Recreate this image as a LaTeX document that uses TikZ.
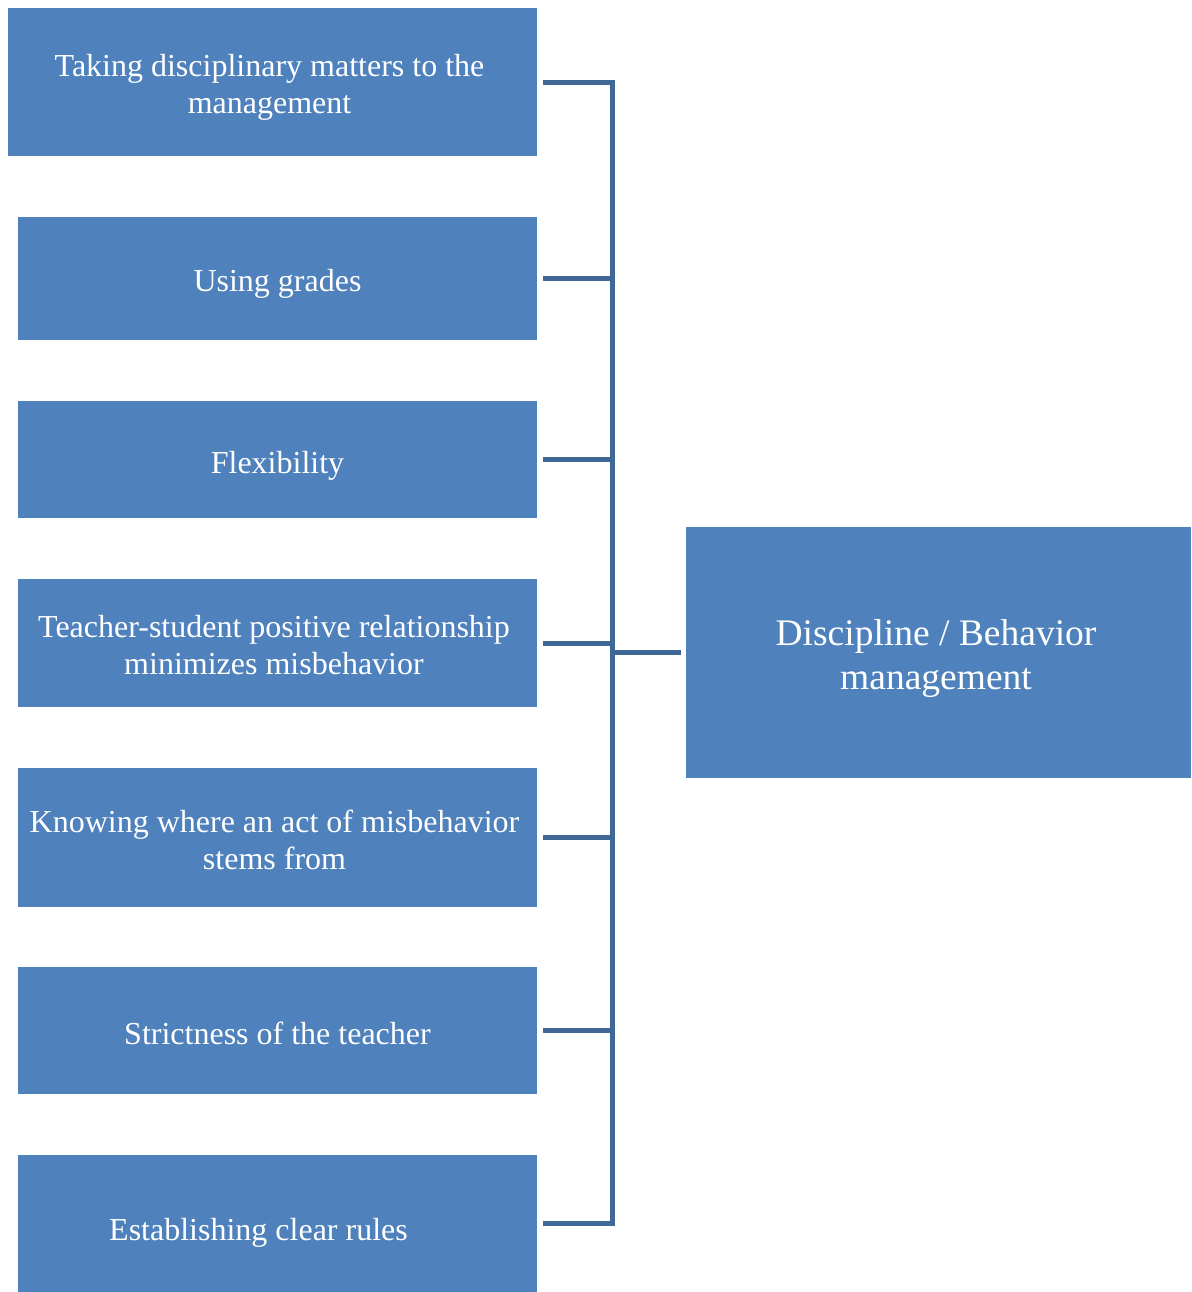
\documentclass[tikz,border=0pt]{standalone}
\usepackage{fontspec}
\setmainfont{Liberation Serif}
\usepackage{tikz}
\usetikzlibrary{positioning}
\definecolor{boxblue}{HTML}{4F81BD}
\definecolor{linkblue}{HTML}{3F6797}
\tikzset{
  item/.style={rectangle,fill=boxblue,inner sep=0pt,outer sep=3pt},
  itemtext/.style={text=white,align=center,inner sep=0pt,font=\fontsize{16}{18.5}\selectfont},
  link/.style={draw=linkblue,line width=2.5pt,line join=miter}
}

\begin{document}
\begin{tikzpicture}[x=0.5pt,y=-0.5pt]
\useasboundingbox (0,0) rectangle (1191,1292);
%
\node[item,minimum width=264.5pt,minimum height=74pt] (b1) at (272.5,82) {};
\node[item,minimum width=259.5pt,minimum height=61.5pt] (b2) at (277.5,278.5) {};
\node[item,minimum width=259.5pt,minimum height=58.5pt] (b3) at (277.5,459.5) {};
\node[item,minimum width=259.5pt,minimum height=64pt] (b4) at (277.5,643) {};
\node[item,minimum width=259.5pt,minimum height=69.5pt] (b5) at (277.5,837.5) {};
\node[item,minimum width=259.5pt,minimum height=63.5pt] (b6) at (277.5,1030.5) {};
\node[item,minimum width=259.5pt,minimum height=68.5pt] (b7) at (277.5,1223.5) {};
\node[item,minimum width=252.5pt,minimum height=125.5pt,outer sep=2.5pt] (main) at (938.5,652.5) {};
%
\node[itemtext] (t1) at ([xshift=-1.5pt,yshift=-2.5pt]b1) {Taking disciplinary matters to the\\management};
\node[itemtext] (t2) at ([yshift=-2.5pt]b2) {Using grades};
\node[itemtext] (t3) at ([yshift=-3pt]b3) {Flexibility};
\node[itemtext] (t4) at ([xshift=-1.75pt,yshift=-1pt]b4) {Teacher-student positive relationship\\minimizes misbehavior};
\node[itemtext] (t5) at ([xshift=-1.5pt,yshift=-1pt]b5) {Knowing where an act of misbehavior\\stems from};
\node[itemtext] (t6) at ([yshift=-1.5pt]b6) {Strictness of the teacher};
\node[itemtext] (t7) at ([xshift=-9.5pt,yshift=-4.5pt]b7) {Establishing clear rules};
\node[itemtext,font=\fontsize{18.75}{22}\selectfont] (tmain) at ([xshift=-1.25pt,yshift=-3pt]main) {Discipline / Behavior\\management};
%
\coordinate (spine) at (612,82);
\draw[link] (b1.east) -| (spine |- b7.east) -- (b7.east);
\foreach \b in {b2,b3,b4,b5,b6}
  \draw[link] (\b.east) -- (\b.east -| spine);
\draw[link] (main.west) -- (main.west -| spine);
%
\end{tikzpicture}
\end{document}
